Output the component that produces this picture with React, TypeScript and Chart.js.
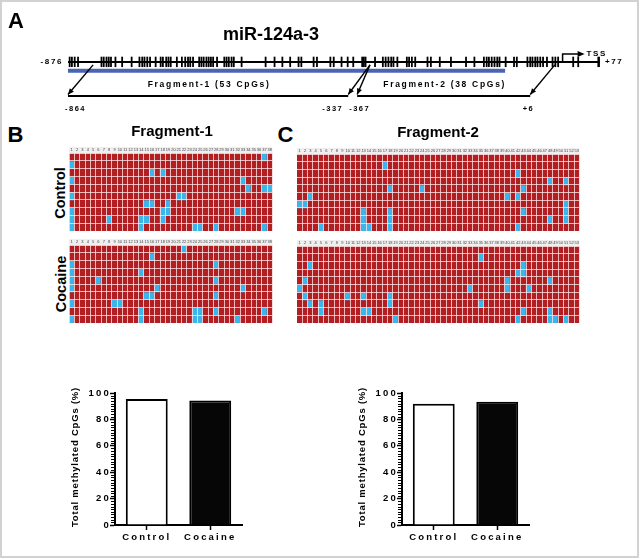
import React, { useEffect, useRef } from 'react';
import { Chart, registerables } from 'chart.js';

Chart.register(...registerables);

const FONT = '"Liberation Sans", Arial, Helvetica, sans-serif';

// ---------------- Panel A: promoter diagram ----------------
const GENE = 'miR-124a-3';
const REGION_START = -876;
const REGION_END = 77;
const REGION_LABELS = ['-876', '+77'];
const CPG_SITES = [
  -873, -869, -864, -858,
  -816, -812, -807, -803, -799, -791,
  -779, -762,
  -748, -743, -739, -734, -729, -719,
  -710, -706, -700, -696, -692, -681,
  -672, -666, -661, -657, -652,
  -641, -637, -633, -628, -624, -620, -616, -609,
  -596, -592, -588, -583, -579, -565,
  -522, -506, -492, -478,
  -463, -458, -436, -430, -406, -400,
  -386, -375, -365,
  -349, -346, -343, -326,
  -312, -307, -302, -297, -293, -286,
  -269, -265, -260, -254,
  -232, -226, -210, -190, -163, -148,
  -131, -126, -122, -117, -112, -107, -103, -92,
  -77, -72,
  -53, -48, -44, -39, -35, -30, -25, -18,
  -8, -3, 2,
  29, 38, 74, 77,
];
const CPG_ISLAND = [-876, -93];
const TSS_SITE = 10;
const FRAGMENT_SPANS = [[-876, -374], [-358, -48]];
const FRAGMENT_NAMES = ['Fragment-1 (53 CpGs)', 'Fragment-2 (38 CpGs)'];
const FRAGMENT_ENDS = [['-864', '-337'], ['-367', '+6']];
const ARROW_FROM = [-831, -335, -335, -4];
const ARROW_TO = [-876, -374, -358, -48];

// ---------------- Panels B / C: bisulfite clone grids ----------------
const F1_CPGS = [1, 2, 3, 4, 5, 6, 7, 8, 9, 10, 11, 12, 13, 14, 15, 16, 17, 18, 19, 20,
  21, 22, 23, 24, 25, 26, 27, 28, 29, 30, 31, 32, 33, 34, 35, 36, 37, 38];
const F2_CPGS = [1, 2, 3, 4, 5, 6, 7, 8, 9, 10, 11, 12, 13, 14, 15, 16, 17, 18, 19, 20,
  21, 22, 23, 24, 25, 26, 27, 28, 29, 30, 31, 32, 33, 34, 35, 36, 37, 38, 39, 40,
  41, 42, 43, 44, 45, 46, 47, 48, 49, 50, 51, 52, 53];

// unmethylated CpG numbers per clone (row), top to bottom
const F1_CONTROL_UNMETH = [
  [37], [1], [16, 18], [1, 33], [34, 37, 38], [1, 21, 22], [15, 16, 19],
  [1, 18, 19, 32, 33], [1, 8, 14, 15, 18], [1, 14, 24, 25, 28, 37],
];
const F1_COCAINE_UNMETH = [
  [22], [16], [1, 28], [1, 14], [1, 6, 28], [1, 17, 33], [15, 16, 28],
  [1, 9, 10], [14, 24, 25, 28, 37], [1, 14, 24, 25, 32],
];
const F2_CONTROL_UNMETH = [
  [], [17], [42], [48, 51], [18, 24, 43], [3, 40, 42], [1, 2, 51],
  [13, 18, 43, 51], [13, 18, 48, 51], [5, 13, 14, 18, 42],
];
const F2_COCAINE_UNMETH = [
  [], [35], [3, 43], [42, 43], [2, 40, 48], [1, 33, 40, 44], [2, 10, 13, 18],
  [3, 5, 18, 35], [5, 13, 14, 43, 48], [19, 42, 48, 49, 51],
];

// ---------------- Bar charts ----------------
const GROUPS = ['Control', 'Cocaine'];
const F1_TOTAL_METH = [95.4, 94.4];
const F2_TOTAL_METH = [91.9, 93.3];
const Y_TITLE = 'Total methylated CpGs (%)';

const METH_COLOR = '#b11f22';
const UNMETH_COLOR = '#3cb6ea';
const GRID_LINE = 'rgba(255,235,235,0.75)';
const ISLAND_COLOR = '#4a63b4';

// ---------------- helpers ----------------
function ChartCanvas(props: { left: number; top: number; width: number; height: number; make: () => any }) {
  const ref = useRef<HTMLCanvasElement | null>(null);
  useEffect(() => {
    const chart = new Chart(ref.current as HTMLCanvasElement, props.make());
    return () => chart.destroy();
  }, []);
  return (
    <canvas
      ref={ref}
      width={props.width}
      height={props.height}
      style={{ position: 'absolute', left: props.left, top: props.top, width: props.width, height: props.height }}
    />
  );
}

function Text(props: { x: number; y: number; size: number; children: string; rotate?: boolean }) {
  return (
    <div
      style={{
        position: 'absolute',
        left: props.x,
        top: props.y,
        transform: `translate(-50%, -50%)${props.rotate ? ' rotate(-90deg)' : ''}`,
        fontFamily: FONT,
        fontWeight: 'bold',
        fontSize: props.size,
        lineHeight: 1,
        whiteSpace: 'nowrap',
        color: '#000',
      }}
    >
      {props.children}
    </div>
  );
}

// ---------------- Panel A chart ----------------
const LINE_Y = 62;
const ISLAND_Y = 72;
const FRAG_Y = 100.5;

function drawArrow(ctx: CanvasRenderingContext2D, x1: number, y1: number, x2: number, y2: number, head: number) {
  ctx.beginPath();
  ctx.moveTo(x1, y1);
  ctx.lineTo(x2, y2);
  ctx.stroke();
  const a = Math.atan2(y2 - y1, x2 - x1);
  ctx.beginPath();
  ctx.moveTo(x2, y2);
  ctx.lineTo(x2 - head * Math.cos(a - 0.42), y2 - head * Math.sin(a - 0.42));
  ctx.lineTo(x2 - head * Math.cos(a + 0.42), y2 - head * Math.sin(a + 0.42));
  ctx.closePath();
  ctx.fill();
}

const diagramPlugin = {
  id: 'diagramDecor',
  afterDatasetsDraw(chart: any) {
    const { ctx } = chart;
    const xs = chart.scales.x;
    const ys = chart.scales.y;
    const px = (v: number) => xs.getPixelForValue(v);
    const py = (v: number) => ys.getPixelForValue(v);
    ctx.save();
    ctx.strokeStyle = '#000';
    ctx.fillStyle = '#000';
    ctx.lineWidth = 1.4;
    for (let i = 0; i < ARROW_FROM.length; i++) {
      drawArrow(ctx, px(ARROW_FROM[i]), py(LINE_Y) + 3, px(ARROW_TO[i]), py(FRAG_Y) - 1.5, 6.5);
    }
    const tx = px(TSS_SITE);
    const ty = py(LINE_Y) - 8;
    ctx.lineWidth = 1.5;
    ctx.beginPath();
    ctx.moveTo(tx, py(LINE_Y));
    ctx.lineTo(tx, ty);
    ctx.lineTo(tx + 16, ty);
    ctx.stroke();
    ctx.beginPath();
    ctx.moveTo(tx + 22, ty);
    ctx.lineTo(tx + 15, ty - 3);
    ctx.lineTo(tx + 15, ty + 3);
    ctx.closePath();
    ctx.fill();

    ctx.textBaseline = 'middle';
    ctx.font = `bold 8px ${FONT}`;
    (ctx as any).letterSpacing = '1.6px';
    ctx.textAlign = 'left';
    ctx.fillText('TSS', tx + 24, ty);
    ctx.textAlign = 'right';
    ctx.fillText(REGION_LABELS[0], px(REGION_START) - 5, py(LINE_Y));
    ctx.textAlign = 'left';
    ctx.fillText(REGION_LABELS[1], px(REGION_END) + 5, py(LINE_Y));

    ctx.font = `bold 8.5px ${FONT}`;
    (ctx as any).letterSpacing = '1.7px';
    ctx.textAlign = 'center';
    FRAGMENT_SPANS.forEach((s, i) => {
      ctx.fillText(FRAGMENT_NAMES[i], (px(s[0]) + px(s[1])) / 2 + 1, py(FRAG_Y) - 11);
    });
    ctx.font = `bold 7.5px ${FONT}`;
    (ctx as any).letterSpacing = '1.5px';
    const ly = py(FRAG_Y) + 12.5;
    ctx.textAlign = 'left';
    ctx.fillText(FRAGMENT_ENDS[0][0], px(FRAGMENT_SPANS[0][0]) - 3, ly);
    ctx.textAlign = 'right';
    ctx.fillText(FRAGMENT_ENDS[0][1], px(FRAGMENT_SPANS[0][1]) - 5, ly);
    ctx.textAlign = 'left';
    ctx.fillText(FRAGMENT_ENDS[1][0], px(FRAGMENT_SPANS[1][0]) - 8, ly);
    ctx.textAlign = 'right';
    ctx.fillText(FRAGMENT_ENDS[1][1], px(FRAGMENT_SPANS[1][1]) + 4, ly);
    (ctx as any).letterSpacing = '0px';
    ctx.restore();
  },
};

function diagramConfig(): any {
  const seg = (a: number, b: number, y: number) => [{ x: a, y }, { x: b, y }];
  return {
    type: 'scatter',
    data: {
      datasets: [
        { data: seg(REGION_START, REGION_END, LINE_Y), showLine: true, borderColor: '#000', borderWidth: 2, pointRadius: 0 },
        {
          data: CPG_SITES.map((x) => ({ x, y: LINE_Y })),
          pointStyle: 'line', pointRotation: 90, pointRadius: 5.2, pointBorderWidth: 1.8,
          pointBorderColor: '#000', pointBackgroundColor: '#000',
        },
        { data: seg(CPG_ISLAND[0], CPG_ISLAND[1], ISLAND_Y), showLine: true, borderColor: ISLAND_COLOR, borderWidth: 4, pointRadius: 0 },
        { data: seg(FRAGMENT_SPANS[0][0], FRAGMENT_SPANS[0][1], FRAG_Y), showLine: true, borderColor: '#000', borderWidth: 2, pointRadius: 0 },
        { data: seg(FRAGMENT_SPANS[1][0], FRAGMENT_SPANS[1][1], FRAG_Y), showLine: true, borderColor: '#000', borderWidth: 2, pointRadius: 0 },
      ],
    },
    options: {
      responsive: false, animation: false, devicePixelRatio: 1, events: [],
      layout: { padding: { left: 68, right: 40, top: 0, bottom: 0 } },
      plugins: { legend: { display: false }, tooltip: { enabled: false } },
      scales: {
        x: { type: 'linear', display: false, min: REGION_START, max: REGION_END },
        y: { type: 'linear', display: false, min: 0, max: 122, reverse: true },
      },
    },
    plugins: [diagramPlugin],
  };
}

// ---------------- Heatmap chart ----------------
const headerBg = {
  id: 'headerBg',
  beforeDraw(chart: any) {
    const { ctx, chartArea } = chart;
    ctx.save();
    ctx.fillStyle = '#efefef';
    ctx.fillRect(chartArea.left, 0, chartArea.right - chartArea.left, chartArea.top);
    ctx.restore();
  },
};

function heatmapConfig(cpgs: number[], unmeth: number[][]): any {
  return {
    type: 'bar',
    data: {
      labels: cpgs.map(String),
      datasets: unmeth.map((blue, r) => ({
        label: 'clone ' + (r + 1),
        data: cpgs.map(() => 1),
        backgroundColor: cpgs.map((c) => (blue.includes(c) ? UNMETH_COLOR : METH_COLOR)),
        borderWidth: 0,
        barPercentage: 1,
        categoryPercentage: 1,
      })),
    },
    options: {
      responsive: false, animation: false, devicePixelRatio: 1, events: [],
      layout: { padding: 0 },
      plugins: { legend: { display: false }, tooltip: { enabled: false } },
      scales: {
        x: {
          stacked: true, position: 'top', offset: true,
          grid: { offset: true, color: GRID_LINE, lineWidth: 1, drawTicks: false, z: 1 },
          border: { display: false },
          ticks: { autoSkip: false, maxRotation: 0, minRotation: 0, padding: 1, color: '#444', font: { size: 4, family: FONT } },
          afterFit: (s: any) => { s.height = 6; },
        },
        y: {
          stacked: true, reverse: true, min: 0, max: unmeth.length,
          grid: { color: GRID_LINE, lineWidth: 1, drawTicks: false, z: 1 },
          border: { display: false },
          ticks: { display: false, stepSize: 1 },
          afterFit: (s: any) => { s.width = 0; },
        },
      },
    },
    plugins: [headerBg],
  };
}

// ---------------- Bar chart ----------------
const prismPlugin = {
  id: 'prism',
  beforeDraw(chart: any) {
    (chart.ctx as any).letterSpacing = '2.2px';
  },
  afterDraw(chart: any) {
    const { ctx, chartArea } = chart;
    const ys = chart.scales.y;
    ctx.save();
    (ctx as any).letterSpacing = '0px';
    ctx.strokeStyle = '#000';
    ctx.lineWidth = 1;
    const ax = chartArea.left - 1;
    for (let v = 0; v <= 100; v += 2) {
      if (v % 20 === 0) continue;
      const p = Math.round(ys.getPixelForValue(v)) + 0.5;
      ctx.beginPath();
      ctx.moveTo(ax - 3, p);
      ctx.lineTo(ax, p);
      ctx.stroke();
    }
    ctx.translate(25, (chartArea.top + chartArea.bottom) / 2 - 2);
    ctx.rotate(-Math.PI / 2);
    ctx.font = `bold 9.5px ${FONT}`;
    (ctx as any).letterSpacing = '0.8px';
    ctx.textAlign = 'center';
    ctx.textBaseline = 'middle';
    ctx.fillStyle = '#000';
    ctx.fillText(Y_TITLE, 0, 0);
    ctx.restore();
    (ctx as any).letterSpacing = '0px';
  },
};

function barConfig(values: number[]): any {
  const tickFont = { size: 9.5, weight: 'bold', family: FONT };
  return {
    type: 'bar',
    data: {
      labels: GROUPS,
      datasets: [{
        data: values,
        backgroundColor: ['#ffffff', '#060606'],
        borderColor: '#000',
        borderWidth: 2,
        barPercentage: 0.66,
        categoryPercentage: 1,
      }],
    },
    options: {
      responsive: false, animation: false, devicePixelRatio: 1, events: [],
      layout: { padding: { top: 10, right: 3, left: 0, bottom: 0 } },
      plugins: { legend: { display: false }, tooltip: { enabled: false } },
      scales: {
        y: {
          min: 0, max: 100,
          ticks: { stepSize: 20, color: '#000', font: tickFont, padding: -1 },
          grid: { drawOnChartArea: false, tickLength: 5, tickColor: '#000', tickWidth: 1.5 },
          border: { color: '#000', width: 2 },
          afterFit: (s: any) => { s.width = 65; },
        },
        x: {
          grid: { drawOnChartArea: false, offset: false, tickLength: 5, tickColor: '#000', tickWidth: 1.5 },
          border: { color: '#000', width: 2 },
          ticks: { color: '#000', font: tickFont, padding: 2 },
          afterFit: (s: any) => { s.height = 28; },
        },
      },
    },
    plugins: [prismPlugin],
  };
}

export default function App() {
  useEffect(() => {
    document.body.style.margin = '0';
  }, []);
  return (
    <div style={{ position: 'absolute', left: 0, top: 0, width: 640, height: 559, background: '#fff', overflow: 'hidden' }}>
      <div style={{ position: 'absolute', left: 0, top: 0, width: 639, height: 558, boxSizing: 'border-box', border: '2px solid #d2d2d2' }} />
      <ChartCanvas left={0} top={0} width={640} height={122} make={diagramConfig} />
      <Text x={16} y={21} size={22}>A</Text>
      <Text x={271} y={34} size={18}>{GENE}</Text>

      <Text x={15.5} y={135} size={22}>B</Text>
      <Text x={285.5} y={135} size={22}>C</Text>
      <Text x={172} y={130} size={15}>Fragment-1</Text>
      <Text x={438} y={131} size={15}>Fragment-2</Text>
      <Text x={60} y={193} size={14.5} rotate>Control</Text>
      <Text x={61} y={284} size={14.5} rotate>Cocaine</Text>

      <ChartCanvas left={69} top={147} width={204} height={84} make={() => heatmapConfig(F1_CPGS, F1_CONTROL_UNMETH)} />
      <ChartCanvas left={69} top={239} width={204} height={84} make={() => heatmapConfig(F1_CPGS, F1_COCAINE_UNMETH)} />
      <ChartCanvas left={297} top={148} width={283} height={83} make={() => heatmapConfig(F2_CPGS, F2_CONTROL_UNMETH)} />
      <ChartCanvas left={297} top={240} width={283} height={83} make={() => heatmapConfig(F2_CPGS, F2_COCAINE_UNMETH)} />

      <ChartCanvas left={50} top={383} width={195} height={170} make={() => barConfig(F1_TOTAL_METH)} />
      <ChartCanvas left={337} top={383} width={195} height={170} make={() => barConfig(F2_TOTAL_METH)} />
    </div>
  );
}
